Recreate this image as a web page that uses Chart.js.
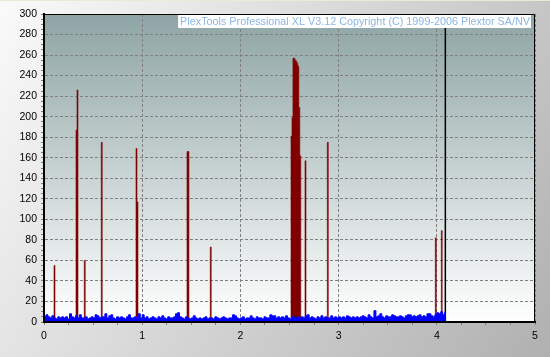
<!DOCTYPE html>
<html>
<head>
<meta charset="utf-8">
<title>PlexTools scan</title>
<script src="https://cdn.jsdelivr.net/npm/chart.js@4.4.0/dist/chart.umd.min.js"></script>
<style>
  html, body { margin: 0; padding: 0; background: #c8c8c8; }
  canvas { display: block; }
</style>
</head>
<body>
<canvas id="myChart" width="550" height="357"></canvas>
<script>
// data

const titleText = 'PlexTools Professional XL V3.12 Copyright (C) 1999-2006 Plextor SA/NV';

const xMin = 0, xMax = 5;
const yMin = 0, yMax = 300;

// blue: low level errors, one value every 0.02
const blueStep = 0.02;
const blueValues = [
  5, 7, 5, 4, 6, 4, 3, 5, 4, 5,
  4, 5, 3, 8, 5, 4, 6, 4, 7, 4,
  4, 5, 3, 4, 5, 4, 7, 6, 4, 5,
  5, 8, 4, 6, 7, 4, 3, 5, 4, 5,
  4, 3, 5, 7, 4, 4, 5, 3, 8, 4,
  7, 4, 5, 3, 4, 5, 4, 3, 5, 4,
  6, 4, 3, 5, 4, 4, 5, 8, 9, 5,
  4, 3, 5, 4, 3, 4, 6, 4, 3, 4,
  3, 4, 5, 3, 4, 4, 3, 5, 4, 3,
  4, 5, 4, 3, 4, 4, 7, 6, 4, 3,
  4, 5, 3, 4, 4, 6, 4, 3, 5, 4,
  4, 3, 5, 4, 4, 7, 6, 6, 4, 5,
  4, 5, 4, 6, 4, 3, 5, 5, 4, 5,
  4, 5, 4, 6, 7, 4, 5, 4, 3, 5,
  4, 6, 4, 5, 4, 4, 6, 4, 5, 4,
  5, 4, 5, 4, 6, 5, 4, 5, 4, 5,
  4, 5, 6, 5, 4, 7, 5, 4, 11, 5,
  6, 8, 5, 4, 6, 5, 5, 7, 6, 5,
  5, 6, 5, 4, 6, 7, 7, 5, 6, 5,
  6, 7, 5, 6, 5, 8, 8, 6, 5, 7,
  9, 8, 10, 7, 9
];

// red: burst errors, position and height of each spike
const redBin = 0.01;
const redX = [0.102, 0.326, 0.336, 0.410, 0.583, 0.937, 0.947, 1.456, 1.466, 1.693,
  2.515, 2.525, 2.535, 2.545, 2.555, 2.565, 2.575, 2.585, 2.595, 2.605,
  2.658, 2.885, 3.985, 4.046];
const redY = [55, 187, 226, 60, 175, 169, 117, 166, 166, 73,
  181, 199, 257, 257, 255, 254, 252, 249, 209, 162,
  157, 175, 82, 89];

// end of scanned area
const endMark = 4.087;

const bluePoints = blueValues.map((v, i) => ({ x: i * blueStep, y: v }));
bluePoints.push({ x: endMark, y: 0 });

const redPoints = [{ x: 0, y: 0 }];
redX.forEach((x, i) => {
  redPoints.push({ x: x, y: redY[i] });
  const next = redX[i + 1];
  if (next === undefined || next > x + redBin + 0.0005) {
    redPoints.push({ x: x + redBin, y: 0 });
  }
});

const backdrop = {
  id: 'backdrop',
  beforeDraw(chart) {
    const { ctx, width, height, chartArea: a } = chart;
    ctx.save();
    let g = ctx.createLinearGradient(0, 0, width, height);
    g.addColorStop(0, '#fafafa');
    g.addColorStop(1, '#b0b0b0');
    ctx.fillStyle = g;
    ctx.fillRect(0, 0, width, height);
    ctx.fillStyle = '#ece9d8';
    ctx.fillRect(0, 0, width, 1);
    g = ctx.createLinearGradient(0, a.top, 0, a.bottom);
    g.addColorStop(0, '#8ea4a4');
    g.addColorStop(1, '#ffffff');
    ctx.fillStyle = g;
    ctx.fillRect(a.left, a.top, a.right - a.left, a.bottom - a.top);
    ctx.restore();
  },
  afterDatasetsDraw(chart) {
    const { ctx, chartArea: a } = chart;
    ctx.save();
    ctx.strokeStyle = '#000';
    ctx.lineWidth = 1;
    ctx.beginPath();
    ctx.moveTo(a.left, a.top + 0.5);
    ctx.lineTo(a.right - 0.5, a.top + 0.5);
    ctx.lineTo(a.right - 0.5, a.bottom);
    ctx.stroke();

    // caption box
    ctx.font = '10.8px "Liberation Sans", Arial, sans-serif';
    const w = ctx.measureText(titleText).width;
    ctx.fillStyle = '#ffffff';
    ctx.fillRect(a.right - 5 - w - 2, a.top + 1, w + 3, 13);
    ctx.fillStyle = '#8cb6e4';
    ctx.textAlign = 'right';
    ctx.textBaseline = 'middle';
    ctx.fillText(titleText, a.right - 5, a.top + 8);
    ctx.restore();
  }
};

Chart.defaults.font.family = '"Liberation Sans", Arial, sans-serif';
Chart.defaults.font.size = 10.5;
Chart.defaults.color = '#000';

const ctx = document.getElementById('myChart');

new Chart(ctx, {
  type: 'line',
  data: {
    datasets: [{
      label: 'PI',
      data: bluePoints,
      stepped: true,
      fill: 'origin',
      backgroundColor: '#0000ff',
      borderColor: '#0000ff',
      borderWidth: 1,
      pointRadius: 0
    }, {
      label: 'Burst',
      data: redPoints,
      stepped: true,
      fill: 'origin',
      backgroundColor: '#800000',
      borderColor: '#800000',
      borderWidth: 0.6,
      pointRadius: 0
    }, {
      label: 'End',
      data: [{ x: endMark, y: yMin }, { x: endMark, y: yMax }],
      borderColor: '#000',
      borderWidth: 1.5,
      fill: false,
      pointRadius: 0
    }]
  },
  options: {
    responsive: false,
    animation: false,
    events: [],
    layout: {
      padding: { top: 14, right: 15, left: 0, bottom: 0 }
    },
    plugins: {
      legend: { display: false },
      tooltip: { enabled: false }
    },
    scales: {
      x: {
        type: 'linear',
        min: xMin,
        max: xMax,
        afterFit: function (s) { s.height = 35; },
        ticks: {
          stepSize: 0.25,
          autoSkip: false,
          maxRotation: 0,
          padding: 5,
          callback: function (v) { return Number.isInteger(v) ? v : ''; }
        },
        grid: {
          color: function (c) {
            return (c.tick && Number.isInteger(c.tick.value)) ? '#808080' : 'rgba(0,0,0,0)';
          },
          tickColor: '#808080',
          tickLength: 3
        },
        border: { color: '#000', width: 2, dash: [3, 2], z: 1 }
      },
      y: {
        min: yMin,
        max: yMax,
        afterFit: function (s) { s.width = 44; },
        ticks: {
          stepSize: 5,
          autoSkip: false,
          padding: 4,
          callback: function (v) { return v % 20 === 0 ? v : ''; }
        },
        grid: {
          color: function (c) {
            return (c.tick && c.tick.value % 20 === 0) ? '#808080' : 'rgba(0,0,0,0)';
          },
          tickColor: '#808080',
          tickLength: 3
        },
        border: { color: '#000', width: 2, dash: [3, 2], z: 1 }
      }
    }
  },
  plugins: [backdrop]
});
</script>
</body>
</html>
